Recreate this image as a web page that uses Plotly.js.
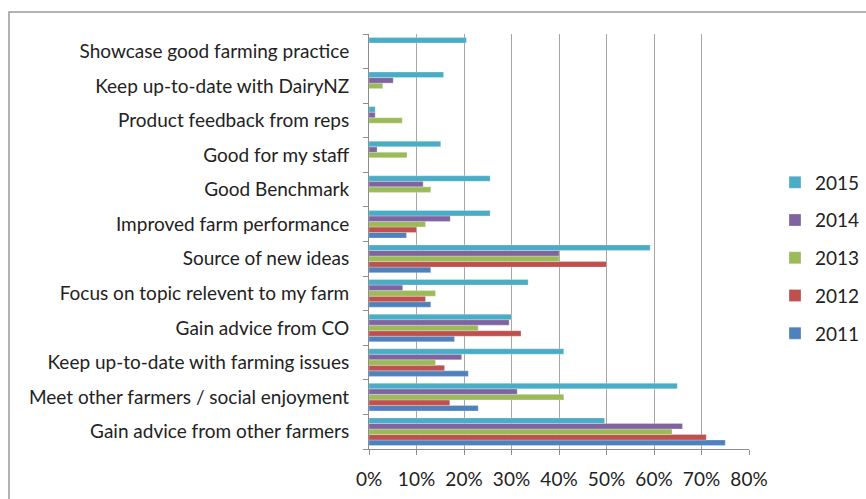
<!DOCTYPE html>
<html>
<head>
<meta charset="utf-8">
<script src="https://cdn.plot.ly/plotly-3.0.1.min.js"></script>
<style>
html,body{margin:0;padding:0;background:#fff;}
#chart{width:866px;height:499px;}
</style>
</head>
<body>
<div id="chart"></div>
<script>
// Categories listed bottom to top
const categories = [
  "Gain advice from other farmers",
  "Meet other farmers / social enjoyment",
  "Keep up-to-date with farming issues",
  "Gain advice from CO",
  "Focus on topic relevent to my farm",
  "Source of new ideas",
  "Improved farm performance",
  "Good Benchmark",
  "Good for my staff",
  "Product feedback from reps",
  "Keep up-to-date with DairyNZ",
  "Showcase good farming practice"
];
const years = ["2011", "2012", "2013", "2014", "2015"];
const v2011 = [0.75, 0.23, 0.209, 0.18, 0.13, 0.13, 0.079, 0, 0, 0, 0, 0];
const v2012 = [0.71, 0.17, 0.159, 0.32, 0.119, 0.50, 0.10, 0, 0, 0, 0, 0];
const v2013 = [0.638, 0.41, 0.14, 0.23, 0.14, 0.40, 0.119, 0.13, 0.08, 0.07, 0.029, 0];
const v2014 = [0.66, 0.312, 0.195, 0.295, 0.071, 0.40, 0.171, 0.114, 0.017, 0.013, 0.051, 0];
const v2015 = [0.496, 0.649, 0.41, 0.30, 0.335, 0.592, 0.255, 0.255, 0.151, 0.013, 0.157, 0.205];
const seriesValues = [v2011, v2012, v2013, v2014, v2015];
const colors = ["#4F81BD", "#C0504D", "#9BBB59", "#8064A2", "#4BACC6"];
const xTickVals = [0, 0.1, 0.2, 0.3, 0.4, 0.5, 0.6, 0.7, 0.8];
const xTickText = ["0%", "10%", "20%", "30%", "40%", "50%", "60%", "70%", "80%"];

const traces = years.map((y, i) => ({
  type: "bar",
  orientation: "h",
  name: y,
  y: categories,
  x: seriesValues[i],
  legendgroup: "g" + y,
  legendrank: 1000 - i,
  marker: {color: colors[i], line: {color: "rgba(255,255,255,0.5)", width: 0.5}},
  hoverinfo: "x+name"
}));

const font = {family: "Lato, 'Open Sans', sans-serif", size: 19, color: "#222"};

const layout = {
  width: 866, height: 499,
  margin: {l: 369, r: 117, t: 34, b: 50, pad: 0},
  paper_bgcolor: "#fff",
  plot_bgcolor: "#fff",
  font: font,
  barmode: "group",
  bargap: 0.2,
  bargroupgap: 0,
  showlegend: true,
  legend: {
    traceorder: "grouped",
    tracegroupgap: 10,
    xref: "container", yref: "container",
    x: 775 / 866, xanchor: "left",
    y: 1 - 258 / 499, yanchor: "middle",
    font: font,
    itemwidth: 30,
    bgcolor: "rgba(0,0,0,0)"
  },
  xaxis: {
    range: [0, 0.8],
    tickvals: xTickVals,
    ticktext: xTickText,
    showgrid: true,
    gridcolor: "#A6A6A6",
    gridwidth: 1,
    showline: true,
    linecolor: "#8C8C8C",
    linewidth: 1,
    ticks: "outside",
    ticklen: 5,
    tickcolor: "#8C8C8C",
    ticklabelstandoff: 8,
    zeroline: false,
    fixedrange: true
  },
  yaxis: {
    type: "category",
    categoryorder: "array",
    categoryarray: categories,
    showline: true,
    linecolor: "#8C8C8C",
    linewidth: 1,
    ticks: "outside",
    tickson: "boundaries",
    ticklen: 5,
    tickcolor: "#8C8C8C",
    ticklabelstandoff: 15,
    showgrid: false,
    zeroline: false,
    fixedrange: true
  },
  shapes: [{
    type: "rect", xref: "paper", yref: "paper",
    x0: (9 - 369) / 380, x1: (880 - 369) / 380,
    y0: (449 - 520) / 415, y1: (449 - 12) / 415,
    line: {color: "#9A9A9A", width: 1.5},
    fillcolor: "rgba(0,0,0,0)", layer: "below"
  }]
};

Plotly.newPlot("chart", traces, layout, {displayModeBar: false, staticPlot: true});
</script>
</body>
</html>
